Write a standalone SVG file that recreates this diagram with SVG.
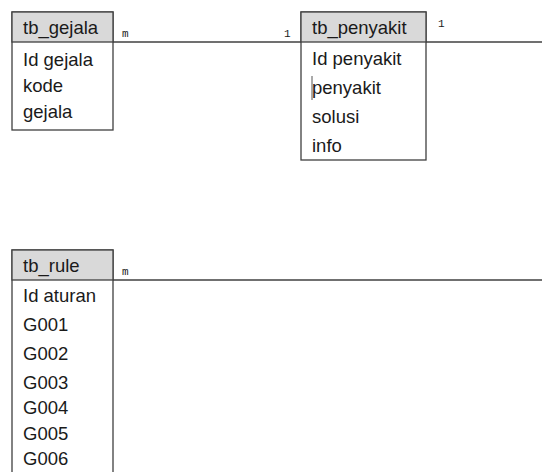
<svg xmlns="http://www.w3.org/2000/svg" width="542" height="472" viewBox="0 0 542 472">
<style>
.box{fill:#fff;stroke:#404040;stroke-width:1.3}
.hdr{fill:#d9d9d9;stroke:#404040;stroke-width:1.3}
.t{font-family:"Liberation Sans",Arial,sans-serif;font-size:18.5px;fill:#1a1a1a}
.s{font-family:"Liberation Mono","DejaVu Sans Mono",monospace;font-size:11px;fill:#1a1a1a}
.ln{stroke:#404040;stroke-width:1.3;fill:none}
</style>
<rect width="542" height="472" fill="#fff"/>
<g id="connectors">
<line class="ln" x1="113" y1="42" x2="542" y2="42"/>
<line class="ln" x1="113" y1="280" x2="542" y2="280"/>
<text class="s" x="122" y="37">m</text>
<text class="s" x="284" y="37">1</text>
<text class="s" x="438" y="27">1</text>
<text class="s" x="122" y="275">m</text>
</g>
<g id="tb_gejala">
<rect class="box" x="12" y="12" width="101" height="118"/>
<rect class="hdr" x="12" y="12" width="101" height="30"/>
<text class="t" x="23" y="34">tb_gejala</text>
<text class="t" x="23" y="66">Id gejala</text>
<text class="t" x="23" y="92">kode</text>
<text class="t" x="23" y="118">gejala</text>
</g>
<g id="tb_penyakit">
<rect class="box" x="301" y="12" width="125" height="148"/>
<rect class="hdr" x="301" y="12" width="125" height="30"/>
<text class="t" x="312" y="34">tb_penyakit</text>
<text class="t" x="312" y="65">Id penyakit</text>
<text class="t" x="312" y="94">penyakit</text>
<text class="t" x="312" y="123">solusi</text>
<text class="t" x="312" y="152">info</text>
<line x1="312" y1="76" x2="312" y2="100" stroke="#555" stroke-width="1"/>
</g>
<g id="tb_rule">
<rect class="box" x="12" y="250" width="101" height="240"/>
<rect class="hdr" x="12" y="250" width="101" height="30"/>
<text class="t" x="23" y="272">tb_rule</text>
<text class="t" x="23" y="302">Id aturan</text>
<text class="t" x="23" y="331">G001</text>
<text class="t" x="23" y="360">G002</text>
<text class="t" x="23" y="389">G003</text>
<text class="t" x="23" y="414">G004</text>
<text class="t" x="23" y="440">G005</text>
<text class="t" x="23" y="465">G006</text>
</g>
</svg>
